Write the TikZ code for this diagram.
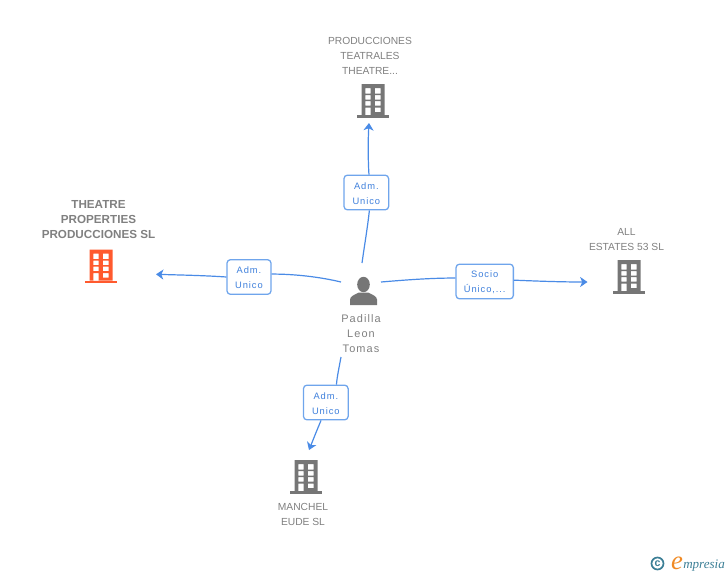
\documentclass[tikz,border=0pt]{standalone}
\usepackage{fontspec}
\setmainfont{Liberation Sans}
\newfontfamily\logofont{Liberation Serif}
\usetikzlibrary{arrows.meta}
\definecolor{linkblue}{HTML}{4A8BE6}
\definecolor{boxblue}{HTML}{6FA5EC}
\definecolor{labelblue}{HTML}{3F80DC}
\definecolor{greyicon}{HTML}{767676}
\definecolor{greytext}{HTML}{808080}
\definecolor{orangeicon}{HTML}{FF5A2E}
\definecolor{logoteal}{HTML}{3C7F96}
\definecolor{logoorange}{HTML}{F08A24}
\newcommand{\lstrut}{\rule{0pt}{6.8pt}}
\tikzset{
  lblbox/.style={draw=boxblue,fill=white,line width=.95pt,rounded corners=2.6pt,
    minimum height=26pt,inner sep=0pt,align=center,text=labelblue,
    font=\fontsize{7}{11.25}\selectfont\addfontfeatures{LetterSpace=10}},
  link/.style={draw=linkblue,line width=.9pt},
  arrowlink/.style={link,-{Stealth[length=5.5pt,width=7.5pt,inset=1.5pt]}},
  nametext/.style={align=center,text=greytext,inner sep=0pt,
    font=\fontsize{7.7}{11.25}\selectfont},
  boldtext/.style={nametext,font=\fontsize{8.75}{11.25}\selectfont\bfseries},
  persontext/.style={nametext,font=\fontsize{8.2}{11.25}\selectfont\addfontfeatures{LetterSpace=10}},
  iconbox/.style={minimum width=24pt,minimum height=25.5pt,inner sep=0pt}
}
\newcommand{\bldg}[4]{%
  \node[iconbox] (#1) at (#2,#3+17) {};
  \begin{scope}[shift={(#2,#3)}]
    \fill[#4,even odd rule] (-11.5,0) rectangle (11.5,31)
      (-7.6,4) rectangle (-2.4,9.5) (1.8,4) rectangle (7.6,9.5)
      (-7.6,11) rectangle (-2.4,15.5) (1.8,11) rectangle (7.6,15.5)
      (-7.6,17) rectangle (-2.4,21.5) (1.8,17) rectangle (7.6,21.5)
      (-7.6,23.5) rectangle (-2.4,31) (1.8,23.5) rectangle (7.6,28.2);
    \fill[#4] (-16,31) rectangle (16,33.8);
  \end{scope}}
\begin{document}
\begin{tikzpicture}[x=.75pt,y=-.75pt]
\useasboundingbox (0,0) rectangle (728,575);

% buildings
\bldg{bTop}{373}{84}{greyicon}
\bldg{bLeft}{101}{249.5}{orangeicon}
\bldg{bRight}{629}{260}{greyicon}
\bldg{bDown}{306}{460}{greyicon}

% building names
\node[nametext] (tTop) at (370,56) {PRODUCCIONES\\TEATRALES\\THEATRE...};
\node[boldtext] (tLeft) at (98.5,220) {THEATRE\\PROPERTIES\\PRODUCCIONES SL};
\node[nametext] (tRight) at (626.5,239.5) {ALL\\ESTATES 53 SL};
\node[nametext] (tDown) at (303,514) {MANCHEL\\EUDE SL};

% person
\node[minimum width=20.5pt,minimum height=21pt,inner sep=0pt] (person) at (363.5,291) {};
\fill[greyicon] (363.5,284.5) ellipse (6.3 and 7.7);
\fill[greyicon] (350,305) -- (350,299.5) .. controls (350.5,296) and (354,295) .. (359,292.5)
  -- (368,292.5) .. controls (373,295) and (376.5,296) .. (377,299.5) -- (377,305) -- cycle;
\node[persontext] (tPerson) at (361,334) {Padilla\\Leon\\Tomas};

% role labels
\node[lblbox,minimum width=33.5pt] (lTop) at (366.3,192.5) {\lstrut Adm.\\Unico};
\node[lblbox,minimum width=33pt] (lLeft) at (249,277) {\lstrut Adm.\\Unico};
\node[lblbox,minimum width=43pt] (lRight) at (484.7,281.5) {\lstrut Socio\\Único,...};
\node[lblbox,minimum width=33.5pt] (lDown) at (325.8,402.5) {\lstrut Adm.\\Unico};

% free ends of connectors
\coordinate (sTop) at (362,263);
\coordinate (aTop) at (369,123);
\coordinate (sLeft) at (341,282);
\coordinate (aLeft) at (156,274.3);
\coordinate (sRight) at (381,282);
\coordinate (aRight) at (587.5,282);
\coordinate (sDown) at (341,357);
\coordinate (aDown) at (309,450);

% connectors
\draw[link] (sTop) .. controls (364.5,245) and (367.5,228) .. ([xshift=2.3pt]lTop.south);
\draw[arrowlink] ([xshift=2pt]lTop.north) .. controls (368,160) and (368,140) .. (aTop);
\draw[link] (sLeft) .. controls (320,277) and (295,274) .. ([yshift=2.2pt]lLeft.east);
\draw[arrowlink] (lLeft.west) .. controls (205,275.5) and (180,275) .. (aLeft);
\draw[link] (sRight) .. controls (405,280) and (430,278) .. ([yshift=2.6pt]lRight.west);
\draw[arrowlink] ([yshift=1pt]lRight.east) .. controls (535,281) and (560,282) .. (aRight);
\draw[link] (sDown) .. controls (339,368) and (337,377) .. ([xshift=8pt]lDown.north);
\draw[arrowlink] ([xshift=-3.6pt]lDown.south) .. controls (317,430) and (313,440) .. (aDown);

% logo
\node[circle,draw=logoteal,line width=1.3pt,minimum size=9pt,inner sep=0pt,text=logoteal,
  font=\fontsize{8}{8}\selectfont\bfseries] (cLogo) at (657.5,563.5) {c};
\node[inner sep=0pt,text=logoorange,anchor=base,
  font=\logofont\itshape\fontsize{20}{20}\selectfont] (eLogo) at (677,569) {e};
\node[inner sep=0pt,text=logoteal,anchor=base west,
  font=\logofont\itshape\fontsize{9.8}{12}\selectfont] (mLogo) at (683,568) {mpresia};
\end{tikzpicture}
\end{document}
